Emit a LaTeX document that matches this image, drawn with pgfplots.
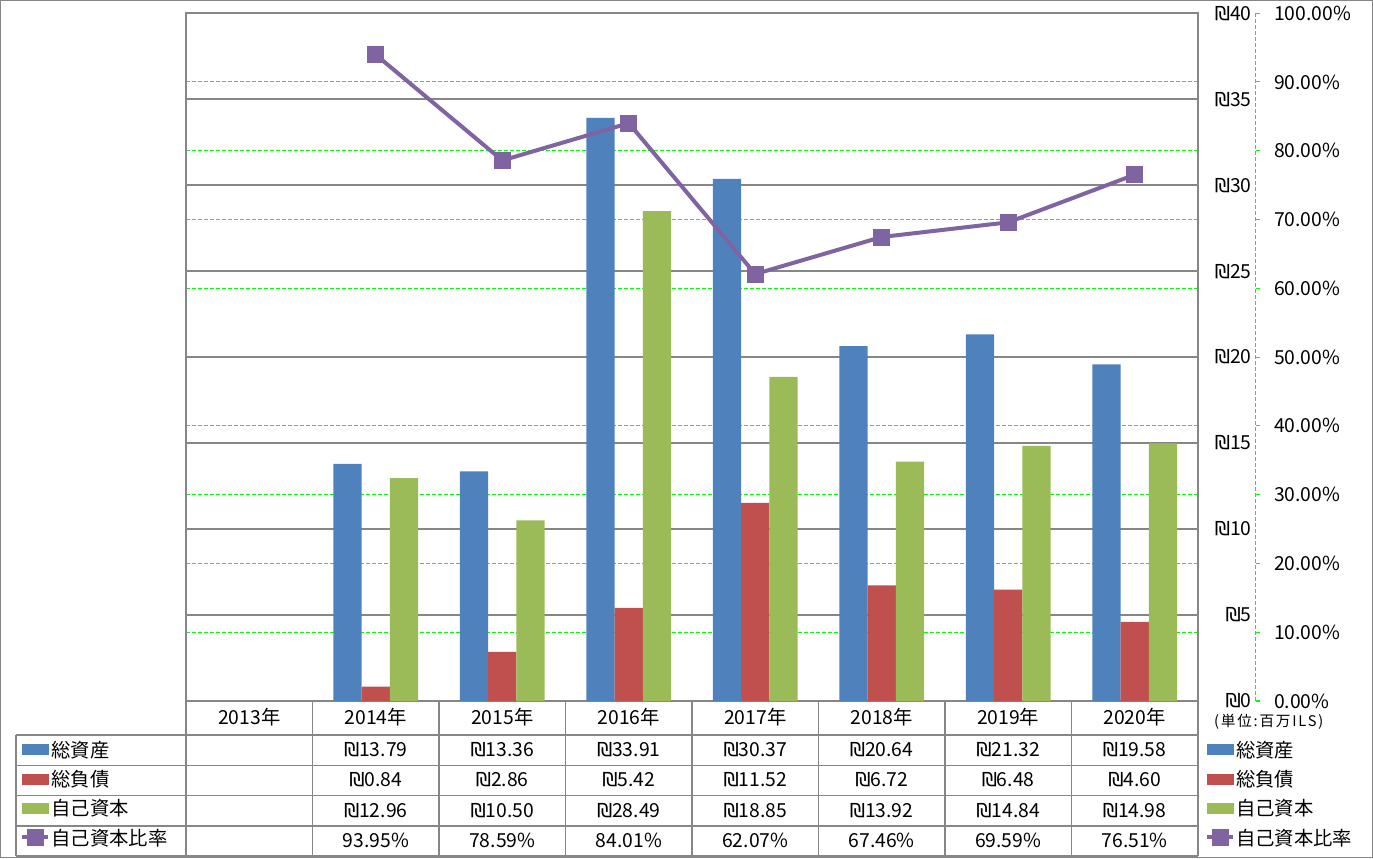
\documentclass[border=0pt]{standalone}
\usepackage{fontspec}
\setmainfont{Noto Sans CJK JP}
\newfontfamily\dejavu{DejaVu Sans}
\usepackage{pgfplots}
\pgfplotsset{compat=1.18}
\definecolor{cBlue}{HTML}{4F81BD}
\definecolor{cRed}{HTML}{C0504D}
\definecolor{cGreen}{HTML}{9BBB59}
\definecolor{cPurp}{HTML}{8064A2}
\definecolor{gridgray}{HTML}{868686}
\definecolor{lgreen}{HTML}{00FF00}
\newcommand{\ils}{{\dejavu ₪}}
\newcommand{\lstrut}{\rule[-3pt]{0pt}{17pt}}
\pgfplotsset{
  common/.style={at={(139.5pt,-525.75pt)}, anchor=south west, scale only axis,
    width=759pt, height=516pt, xmin=-0.5, xmax=7.5},
  mylegend/.style={legend style={at={(#1,-0.05494)}, anchor=north west, draw=none,
    fill=none, inner sep=0pt, outer sep=0pt, row sep=5.725pt, column sep=1pt,
    cells={anchor=west}, nodes={inner sep=0pt}}},
  barkey/.style={legend image code/.code={\fill[#1] (0pt,-3.75pt) rectangle (19.5pt,3.75pt);}},
  linekey/.style={legend image code/.code={\draw[cPurp, line width=3pt, mark=square*,
    mark size=6pt, mark options={rounded corners=1.5pt, line width=0.5pt, fill=cPurp},
    mark repeat=2, mark phase=2] plot coordinates {(0pt,0pt) (9.75pt,0pt) (19.5pt,0pt)};}},
}
\begin{document}
\fontsize{14.5pt}{17pt}\selectfont
\begin{tikzpicture}
% ---------- secondary grid + labels + right legend
\begin{axis}[common, ymin=0, ymax=100,
  axis x line=none, axis y line*=right, y axis line style={draw=none},
  ytick={0,10,20,30,40,50,60,70,80,90,100},
  yticklabels={0.00\%,10.00\%,20.00\%,30.00\%,40.00\%,50.00\%,60.00\%,70.00\%,80.00\%,90.00\%,100.00\%},
  major tick length=0pt,
  ymajorgrids, major grid style={lgreen, dash pattern=on 3pt off 1.5pt, line width=0.8pt},
  yticklabel style={anchor=west, inner sep=0pt, xshift=57pt},
  mylegend=1.00692]
\addlegendimage{barkey=cBlue}\addlegendentry{\lstrut 総資産}
\addlegendimage{barkey=cRed}\addlegendentry{\lstrut 総負債}
\addlegendimage{barkey=cGreen}\addlegendentry{\lstrut 自己資本}
\addlegendimage{linekey}\addlegendentry{\lstrut 自己資本比率}
\end{axis}
% ---------- bars
\begin{axis}[common, ymin=0, ymax=40, ybar=0pt, bar width=21.2pt,
  axis line style={gridgray, line width=1pt},
  xtick=\empty,
  ytick={0,5,10,15,20,25,30,35,40},
  yticklabels={\ils0,\ils5,\ils10,\ils15,\ils20,\ils25,\ils30,\ils35,\ils40},
  yticklabel pos=right,
  yticklabel style={anchor=east, inner sep=0pt, xshift=40.5pt},
  major tick length=0pt,
  ymajorgrids, major grid style={gridgray, line width=1pt}]
\addplot[fill=cBlue, draw=none] coordinates {(1,13.79) (2,13.36) (3,33.91) (4,30.37) (5,20.64) (6,21.32) (7,19.58)};
\addplot[fill=cRed, draw=none] coordinates {(1,0.84) (2,2.86) (3,5.42) (4,11.52) (5,6.72) (6,6.48) (7,4.60)};
\addplot[fill=cGreen, draw=none] coordinates {(1,12.96) (2,10.50) (3,28.49) (4,18.85) (5,13.92) (6,14.84) (7,14.98)};
\end{axis}
% ---------- ratio line + left legend
\begin{axis}[common, ymin=0, ymax=100, hide axis, clip=false, mylegend=-0.16403]
\addplot[forget plot, cPurp, line width=3pt, mark=square*, mark size=6pt,
  mark options={rounded corners=1.5pt, line width=0.5pt, fill=cPurp}]
  coordinates {(1,93.95) (2,78.59) (3,84.01) (4,62.07) (5,67.46) (6,69.59) (7,76.51)};
\addlegendimage{barkey=cBlue}\addlegendentry{\lstrut 総資産}
\addlegendimage{barkey=cRed}\addlegendentry{\lstrut 総負債}
\addlegendimage{barkey=cGreen}\addlegendentry{\lstrut 自己資本}
\addlegendimage{linekey}\addlegendentry{\lstrut 自己資本比率}
\end{axis}
% ---------- frame, secondary axis line, data table
\begin{scope}[x=0.75pt,y=-0.75pt]
\draw[gridgray, line width=1pt] (0.5,0.5) rectangle (1372.5,857.5);
\draw[lgreen, line width=0.8pt, dash pattern=on 3pt off 1.5pt] (1256,13) -- (1256,701);
\foreach \i in {0,...,10} \draw[lgreen, line width=0.8pt] (1256,{701-68.8*\i}) -- (1260,{701-68.8*\i});
\foreach \k in {0,...,8} \draw[gridgray, line width=1pt] ({186+126.5*\k},701) -- ({186+126.5*\k},856.2);
\draw[gridgray, line width=1pt] (16,735) -- (16,856.2);
\foreach \yy in {735,765.3,795.6,825.9,856.2} \draw[gridgray, line width=1pt] (16,\yy) -- (1198,\yy);
\foreach \k/\t in {0/2013年,1/2014年,2/2015年,3/2016年,4/2017年,5/2018年,6/2019年,7/2020年}
  \node[anchor=base, inner sep=0pt] at ({186+126.5*(\k+0.5)},724.5) {\t};
\foreach \k/\a/\b/\c/\d in {1/13.79/0.84/12.96/93.95, 2/13.36/2.86/10.50/78.59,
   3/33.91/5.42/28.49/84.01, 4/30.37/11.52/18.85/62.07, 5/20.64/6.72/13.92/67.46,
   6/21.32/6.48/14.84/69.59, 7/19.58/4.60/14.98/76.51} {
  \node[anchor=base, inner sep=0pt] at ({186+126.5*(\k+0.5)},756.6) {\ils\a};
  \node[anchor=base, inner sep=0pt] at ({186+126.5*(\k+0.5)},786.9) {\ils\b};
  \node[anchor=base, inner sep=0pt] at ({186+126.5*(\k+0.5)},817.2) {\ils\c};
  \node[anchor=base, inner sep=0pt] at ({186+126.5*(\k+0.5)},847.5) {\d\%};
}
\node[anchor=base west, inner sep=0pt, font={\fontsize{11pt}{13pt}\selectfont\addfontfeature{LetterSpace=12}}] at (1214,727) {(単位:百万ILS)};
\end{scope}
\end{tikzpicture}
\end{document}
